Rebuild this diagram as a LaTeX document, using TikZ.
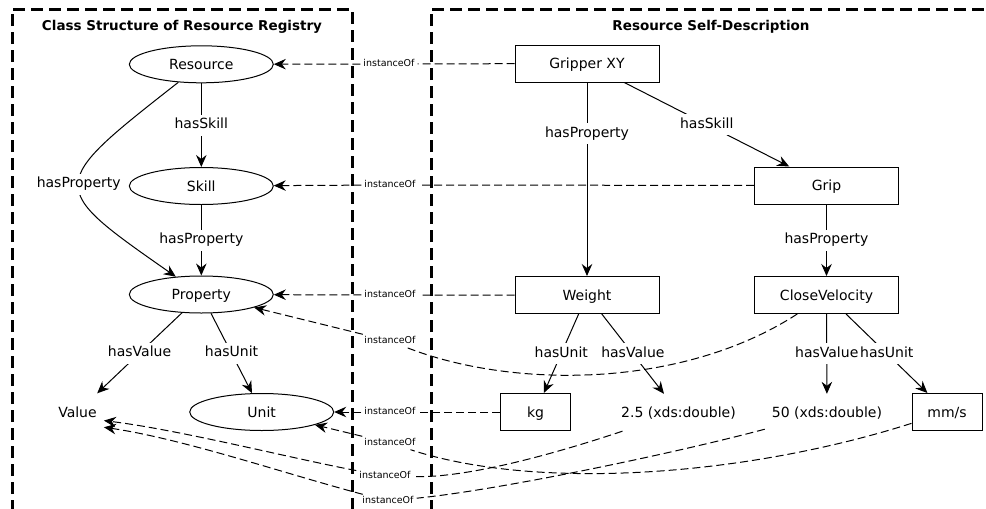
\documentclass[tikz,border=0pt]{standalone}
\usepackage{fontspec}
\setmainfont{DejaVu Sans}
\usetikzlibrary{shapes.geometric,arrows.meta}

\begin{document}
\begin{tikzpicture}[x=1pt,y=-1pt,
  every node/.style={font=\fontsize{14}{16}\selectfont},
  tip/.style={-{Stealth[length=12pt,width=10.5pt,inset=4pt]}},
  cls/.style={ellipse,draw,line width=1pt,minimum width=144pt,minimum height=37pt,
    inner sep=0pt,text height=10pt,text depth=0pt},
  inbox/.style={rectangle,draw,line width=1pt,minimum width=144pt,minimum height=37pt,
    inner sep=0pt,text height=10pt,text depth=0pt},
  smallbox/.style={inbox,minimum width=70pt},
  lit/.style={rectangle,minimum height=37pt,inner xsep=7pt,inner ysep=0pt,
    text height=10pt,text depth=0pt},
  rel/.style={line width=1pt,tip},
  rellbl/.style={fill=white,inner xsep=1.5pt,inner ysep=4pt,text height=10pt,text depth=3pt},
  io/.style={line width=1pt,dash pattern=on 8pt off 4pt,tip},
  iolbl/.style={fill=white,inner xsep=3pt,inner ysep=2pt,text height=7pt,text depth=2pt,
    font=\fontsize{9.5}{11}\selectfont},
  regionframe/.style={line width=3pt,dash pattern=on 12pt off 6pt},
  paneltitle/.style={font=\fontsize{13.5}{16}\selectfont\bfseries,text height=10pt,text depth=0pt}
]
\useasboundingbox (0,0) rectangle (986,509);
\clip (0,0) rectangle (986,509);
\fill[white] (0,0) rectangle (986,509);

% dashed panels
\draw[regionframe] (12,530) -- (12,9) -- (352,9) -- (352,530);
\draw[regionframe] (431,530) -- (431,9) -- (1010,9);
\node[paneltitle] (t1) at (182,25.3) {Class Structure of Resource Registry};
\node[paneltitle] (t2) at (711,25.3) {Resource Self-Description};

% classes of the registry
\node[cls] (res)   at (201.3,64.3) {Resource};
\node[cls] (skill) at (201.3,186)  {Skill};
\node[cls] (prop)  at (201.3,294.5) {Property};
\node[cls] (unit)  at (261.7,412)  {Unit};
\node[lit] (val)   at (77.5,412)   {Value};

% self-description instances
\node[inbox] (grx)  at (587,63.5)   {Gripper XY};
\node[inbox] (grip) at (826.5,185.5) {Grip};
\node[inbox] (wt)   at (587,295)    {Weight};
\node[inbox] (cv)   at (826.5,295)  {CloseVelocity};
\node[smallbox] (kg)  at (535.5,412) {kg};
\node[lit] (v25) at (678.5,412.5) {2.5 (xds:double)};
\node[lit] (v50) at (827,412.5)   {50 (xds:double)};
\node[smallbox] (mms) at (947,412) {mm/s};

% class relations
\draw[rel] (res) -- node[rellbl]{hasSkill} (skill);
\draw[rel] (skill) -- node[rellbl]{hasProperty} (prop);
\draw[rel] (res) .. controls (46,186) .. node[rellbl]{hasProperty} (prop);
\draw[rel] (prop) -- node[rellbl]{hasValue} (val);
\draw[rel] (prop) -- node[rellbl]{hasUnit} (unit);

% instance relations
\draw[rel] (grx) -- node[rellbl,pos=0.265]{hasProperty} (wt);
\draw[rel] (grx) -- node[rellbl]{hasSkill} (grip);
\draw[rel] (grip) -- node[rellbl]{hasProperty} (cv);
\draw[rel] (wt) -- node[rellbl]{hasUnit} (kg);
\draw[rel] (wt) -- node[rellbl]{hasValue} (v25);
\draw[rel] (cv) -- node[rellbl]{hasValue} (v50);
\draw[rel] (cv) -- node[rellbl]{hasUnit} (mms);

% instanceOf labels
\node[iolbl] (l1) at (389,64)  {instanceOf};
\node[iolbl] (l2) at (390,185) {instanceOf};
\node[iolbl] (l3) at (390,295) {instanceOf};
\node[iolbl] (l4) at (390,341) {instanceOf};
\node[iolbl] (l5) at (390,412) {instanceOf};
\node[iolbl] (l6) at (390,443) {instanceOf};
\node[iolbl] (l7) at (385,476) {instanceOf};
\node[iolbl] (l8) at (388,501) {instanceOf};

% instanceOf links
\draw[io] (grx) -- (l1) -- (res);
\draw[io] (grip) -- (l2) -- (skill);
\draw[io] (wt) -- (l3) -- (prop);
\draw[io] (cv) .. controls (680,390) and (510,388) .. (l4) -- (prop);
\draw[io] (kg) -- (l5) -- (unit);
\draw[io] (mms) .. controls (750,475) and (540,492) .. (l6) -- (unit);
\draw[io] (v25) .. controls (560,452) and (470,478) .. (l7)
  .. controls (290,458) and (180,430) .. (val.-18);
\draw[io] (v50) .. controls (680,452) and (500,490) .. (l8)
  .. controls (286,474) and (184,439) .. (val.-30);
\end{tikzpicture}
\end{document}
